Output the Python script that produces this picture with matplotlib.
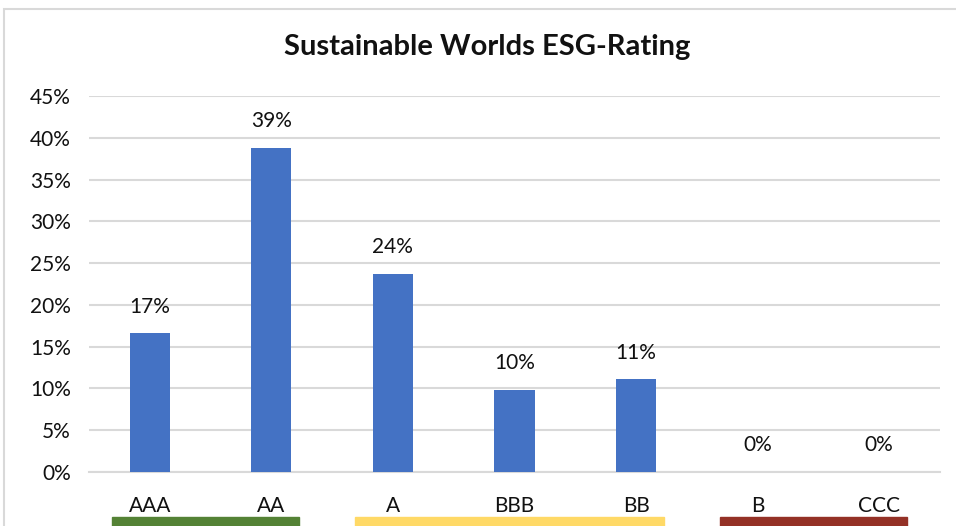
import matplotlib
matplotlib.use("Agg")
import matplotlib.pyplot as plt
from matplotlib.patches import Rectangle
import matplotlib.transforms as mtransforms

# data
ratings = ["AAA", "AA", "A", "BBB", "BB", "B", "CCC"]
shares = [0.166, 0.388, 0.237, 0.098, 0.111, 0.0, 0.0]
labels = ["17%", "39%", "24%", "10%", "11%", "0%", "0%"]
yticks = [0, 0.05, 0.10, 0.15, 0.20, 0.25, 0.30, 0.35, 0.40, 0.45]

# rating groups shown as coloured strips under the axis
groups = [(0, 1, "#548235"), (2, 4, "#FFD966"), (5, 6, "#943126")]

plt.rcParams["font.family"] = ["Lato", "DejaVu Sans"]

fig = plt.figure(figsize=(9.56, 5.26), dpi=100)
fig.patch.set_facecolor("white")

# chart frame
fig.patches.append(Rectangle((4 / 956, -0.1), 1.2, (526 - 9) / 526 + 0.1,
                             transform=fig.transFigure, fill=False,
                             edgecolor="#D9D9D9", linewidth=1.5))

ax = fig.add_axes([89 / 956, 54 / 526, (940 - 89) / 956, (472 - 96) / 526])
x = list(range(len(ratings)))
ax.bar(x, shares, width=0.33, color="#4472C4", zorder=3)

for xi, v, lab in zip(x, shares, labels):
    ax.annotate(lab, (xi, v), xytext=(0, 12), textcoords="offset points",
                ha="center", va="bottom", fontsize=15, color="#111111")

ax.set_xlim(-0.5, len(ratings) - 0.5)
ax.set_ylim(0, 0.45)
ax.set_yticks(yticks)
ax.set_yticklabels([f"{int(round(t * 100))}%" for t in yticks])
ax.set_xticks(x)
ax.set_xticklabels(ratings)
ax.tick_params(axis="both", length=0, labelsize=15, colors="#111111")
ax.tick_params(axis="x", pad=17)
ax.tick_params(axis="y", pad=13)
ax.grid(axis="y", color="#D9D9D9", linewidth=1.5, zorder=0)
for side in ["top", "right", "left"]:
    ax.spines[side].set_visible(False)
ax.spines["bottom"].set_color("#D9D9D9")
ax.spines["bottom"].set_linewidth(1.5)

trans = mtransforms.blended_transform_factory(ax.transData, fig.transFigure)
for start, end, color in groups:
    ax.add_patch(Rectangle((start - 0.31, -0.02), end - start + 0.54, 9 / 526 + 0.02,
                           transform=trans, color=color, clip_on=False))

fig.text(487 / 956, 1 - 47 / 526, "Sustainable Worlds ESG-Rating",
         ha="center", va="center", fontsize=21, fontweight="bold", color="#111111")

fig.savefig("out.png", dpi=100)
